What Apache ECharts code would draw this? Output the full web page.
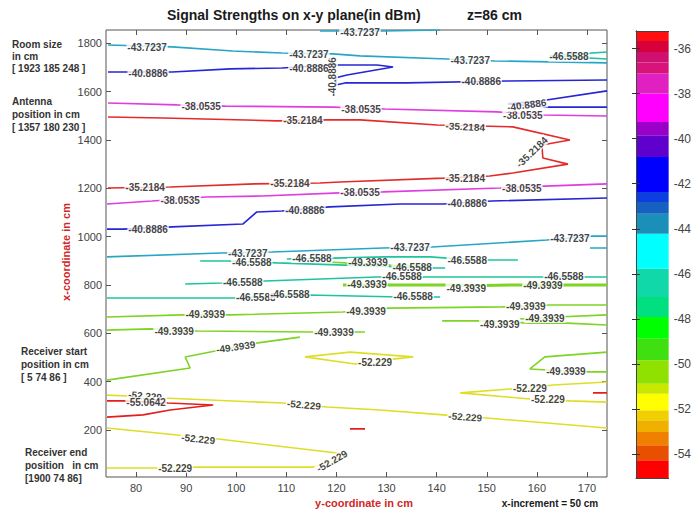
<!DOCTYPE html>
<html>
<head>
<meta charset="utf-8">
<title>Signal Strengths on x-y plane</title>
<script src="https://cdn.jsdelivr.net/npm/echarts@6/dist/echarts.min.js"></script>
<style>
  html, body { margin: 0; padding: 0; background: #fff; }
  #chart { width: 694px; height: 513px; }
</style>
</head>
<body>
<div id="chart"></div>
<script>
// ---- data ---------------------------------------------------------------
// contour levels in dBm
const levels = [-35.2184, -38.0535, -40.8886, -43.7237, -46.5588, -49.3939, -52.229, -55.0642];

// axis ticks
const xTicks = [80, 90, 100, 110, 120, 130, 140, 150, 160, 170];
const yTicks = [200, 400, 600, 800, 1000, 1200, 1400, 1600, 1800];
const cbTicks = [-54, -52, -50, -48, -46, -44, -42, -40, -38, -36];

// colour bar band edges (dBm, ascending)
const cbEdges = [-55.0642, -54.281, -53.615, -53.025, -52.505, -52.061, -51.320, -50.876,
  -49.841, -48.877, -47.918, -47.030, -45.769, -44.215, -43.327, -42.812, -42.368,
  -40.814, -39.850, -39.259, -37.998, -37.110, -36.622, -36.151, -35.6625, -35.2184];

// contour polylines: [y-coordinate (cm), x-coordinate (cm)]
// -35.2184
const red1 = [[74.4,1495],[85.4,1491],[108.1,1479],[118.1,1483],[124.7,1483],[140.1,1462],[155.2,1454],[166.6,1400],[161.0,1379],[161.2,1325],[166.2,1300],[155.2,1263],[150.6,1251],[141.3,1242],[120.7,1226],[116.7,1222],[103.7,1218],[86.8,1205],[74.4,1201]];
// -38.0535
const mag1 = [[74.4,1553],[88.2,1545],[97.8,1540],[119.3,1536],[129.7,1528],[152.0,1516],[161.2,1503],[174,1499]];
const mag2 = [[74.2,1135],[83.2,1147],[94.0,1164],[105.1,1168],[120.7,1181],[129.3,1185],[152.6,1201],[161.6,1209],[174,1218]];
// -40.8886
const blue1 = [[74.4,1681],[87.2,1681],[98.8,1694],[109.1,1698],[119.3,1710],[128.1,1710],[131.3,1702],[122.1,1669],[119.9,1657],[119.9,1627],[121.7,1636],[134.1,1636],[154.0,1644],[174,1648]];
const blue2 = [[174,1603],[160.6,1561],[154.2,1549],[162.2,1536],[174,1536]];
const blue3 = [[74.2,1031],[77.4,1031],[87.2,1040],[101.3,1052],[104.1,1102],[109.1,1106],[118.7,1123],[132.7,1135],[141.3,1135],[151.0,1147],[174,1160]];
// -43.7237
const cyan1 = [[74.4,1793],[87.2,1785],[99.3,1768],[109.1,1760],[119.3,1756],[124.7,1748],[142.1,1735],[151.6,1727],[174,1719]];
const cyan2 = [[116.7,1851],[120.3,1851],[129.3,1851],[140.7,1855]];
const cyan3 = [[74.2,916],[96.8,932],[107.1,936],[129.3,953],[139.1,957],[162.0,986],[171.2,1002],[174,1002]];
const cyan4 = [[170.6,953],[174,953]];
// -46.5588
const teal1 = [[174,1764],[162.6,1748],[174,1735]];
const teal2 = [[92.8,899],[98.4,899],[108.1,891],[121.7,882],[139.5,870],[141.7,870]];
const teal3 = [[110.1,907],[119.5,911],[129.5,916],[138.7,916],[142.1,911],[150.2,903],[156.2,903]];
const teal4 = [[89.8,804],[97.2,808],[105.7,816],[128.1,833],[138.1,833],[161.2,833],[174,833]];
const teal5 = [[74.2,746],[100.1,746],[108.7,754],[114.3,758],[132.7,750],[139.1,750],[140.7,750]];
// -49.3939
const green1 = [[118.1,895],[121.7,891],[130.7,882],[138.7,878]];
const green2 = [[121.3,800],[133.4,800],[141.7,800],[149.6,798],[157.2,800],[165.2,800],[174,800]];
const green3 = [[74.2,667],[89.2,676],[98.8,676],[121.3,688],[130.3,704],[153.2,709],[162.6,717],[174,717]];
const green4 = [[74.2,613],[82.8,618],[92.2,609],[115.3,605],[125.7,605]];
const green5 = [[141.1,651],[150.6,651],[158.6,642],[166.0,642],[174,634]];
const green6 = [[156.6,659],[164.0,667],[174,676]];
const green7 = [[74.2,406],[90.8,456],[89.8,502],[94.8,522],[100.0,543],[104.3,560],[112.7,584]];
const green8 = [[174,522],[161.6,502],[158.6,452],[165.8,444],[170.6,440],[174,440]];
// -52.229
const yel1 = [[113.7,502],[122.7,522],[135.3,502],[131.3,493],[127.7,477],[123.7,473],[113.7,502]];
const yel2 = [[74.2,344],[78.2,340],[85.4,332],[109.3,311],[118.1,295],[128.7,282],[141.3,262],[150.0,249],[174,208]];
const yel3 = [[74.2,208],[88.2,179],[96.4,162],[120.1,104],[122.3,91],[115.3,46],[92.2,46],[83.4,42],[74.2,42]];
const yel4 = [[174,398],[163.2,386],[158.6,373],[154.6,369],[144.7,353],[158.6,328],[162.2,324],[166.6,320],[174,315]];
// -55.0642
const red2 = [[74.2,320],[77.4,320],[86.4,311],[95.4,303],[86.8,282],[81.4,262],[74.2,253]];
const red3 = [[122.7,204],[125.7,204]];
const red4 = [[171.2,353],[174,353]];

// which level each polyline belongs to
const contourPaths = [
  [0, red1],
  [1, mag1], [1, mag2],
  [2, blue1], [2, blue2], [2, blue3],
  [3, cyan1], [3, cyan2], [3, cyan3], [3, cyan4],
  [4, teal1], [4, teal2], [4, teal3], [4, teal4], [4, teal5],
  [5, green1], [5, green2], [5, green3], [5, green4], [5, green5], [5, green6], [5, green7], [5, green8],
  [6, yel1], [6, yel2], [6, yel3], [6, yel4],
  [7, red2], [7, red3], [7, red4]
];

// inline contour labels per level: [y-coordinate, x-coordinate, angle]
const lab35 = [[113.3,1479,0],[145.7,1454,-3],[159.0,1350,44],[145.7,1242,0],[110.7,1218,0],[81.8,1205,0]];
const lab38 = [[93.0,1540,0],[124.9,1528,0],[157.2,1503,0],[88.8,1151,0],[124.7,1181,0],[157.0,1197,0]];
const lab40 = [[82.4,1677,0],[114.5,1694,0],[119.3,1661,90],[148.9,1640,0],[158.0,1545,8],[82.4,1031,0],[113.7,1110,0],[146.1,1139,0]];
const lab43 = [[82.2,1781,0],[114.5,1752,0],[146.7,1727,0],[124.7,1845,0],[102.3,932,0],[134.7,953,0],[166.6,994,0]];
const lab46 = [[166.4,1744,0],[103.1,891,0],[135.1,874,0],[115.1,911,0],[146.1,903,0],[101.3,808,0],[133.1,833,0],[165.4,833,0],[103.9,746,0],[110.7,762,0],[135.3,750,0]];
const lab49 = [[126.3,891,0],[126.1,800,0],[145.9,787,0],[161.2,796,0],[93.8,676,0],[125.9,692,0],[157.8,709,0],[87.6,609,0],[119.5,601,0],[152.6,638,0],[161.6,663,0],[99.9,543,8],[165.8,440,0]];
const lab52 = [[127.7,477,0],[81.8,340,-5],[113.5,303,-5],[145.7,253,-4],[92.4,162,-6],[119.1,71,30],[87.8,42,0],[158.6,373,0],[162.2,324,0]];
const lab55 = [[82.0,315,0]];
const contourLabels = [lab35, lab38, lab40, lab43, lab46, lab49, lab52, lab55];

// ---- styles -------------------------------------------------------------
const levelColors = ['#e32b2b', '#e03ce0', '#2626d6', '#27a6c6', '#1fc49c', '#7ed424', '#dede2a', '#e41e1e'];
const bandColors = ['#ff0000', '#e85000', '#f08000', '#f0b000', '#f0d000', '#ffff00', '#c8e800', '#90e000',
  '#40e010', '#00ff00', '#00e080', '#10d8a8', '#00ffff', '#1a90b8', '#1560c0', '#0d3ee0', '#0000ff',
  '#6000cc', '#9a00c8', '#ff00ff', '#e020c0', '#d8137a', '#d01070', '#d8003a', '#ff1010'];
const heavyPaths = [green2];
const FONT = '"Liberation Sans", Arial, sans-serif';

// ---- chart --------------------------------------------------------------
const chart = echarts.init(document.getElementById('chart'), null, { renderer: 'svg', width: 694, height: 513 });

const lineSeries = contourPaths.map(([lv, pts]) => ({
  type: 'line',
  xAxisIndex: 0,
  yAxisIndex: 0,
  data: pts,
  symbol: 'none',
  silent: true,
  z: 2,
  lineStyle: { color: levelColors[lv], width: heavyPaths.includes(pts) ? 3 : 1.6 }
}));

const labelData = [];
contourLabels.forEach((arr, lv) => {
  arr.forEach(([x, y, r]) => labelData.push({ value: [x, y], lvl: lv, label: { rotate: r } }));
});

const bands = cbEdges.slice(0, -1).map((lo, i) => [0, lo, cbEdges[i + 1], i]);

const tickStyle = { color: '#555', width: 1 };
const labelStyle = { color: '#444', fontSize: 11, fontFamily: FONT, formatter: v => String(v) };

const option = {
  animation: false,
  textStyle: { fontFamily: FONT },
  grid: [
    { left: 106, top: 30, width: 501, height: 447, show: true, borderColor: '#555', borderWidth: 1, backgroundColor: '#fff' },
    { left: 636, top: 31, width: 45, height: 447, show: false }
  ],
  xAxis: [
    { gridIndex: 0, type: 'value', min: 74, max: 174, position: 'bottom',
      axisLine: { show: false }, splitLine: { show: false },
      axisTick: { inside: true, length: 5, customValues: xTicks, lineStyle: tickStyle },
      axisLabel: Object.assign({ customValues: xTicks, margin: 5 }, labelStyle) },
    { gridIndex: 0, type: 'value', min: 74, max: 174, position: 'top',
      axisLine: { show: false }, splitLine: { show: false },
      axisTick: { inside: true, length: 5, customValues: xTicks, lineStyle: tickStyle },
      axisLabel: { show: false } },
    { gridIndex: 1, type: 'value', min: 0, max: 1, position: 'bottom', z: 10,
      axisLine: { show: true, lineStyle: { color: '#444' } }, splitLine: { show: false },
      axisTick: { show: false }, axisLabel: { show: false } },
    { gridIndex: 1, type: 'value', min: 0, max: 1, position: 'top', z: 10,
      axisLine: { show: true, lineStyle: { color: '#444' } }, splitLine: { show: false },
      axisTick: { show: false }, axisLabel: { show: false } }
  ],
  yAxis: [
    { gridIndex: 0, type: 'value', min: 5, max: 1855, position: 'left',
      axisLine: { show: false }, splitLine: { show: false },
      axisTick: { inside: true, length: 5, customValues: yTicks, lineStyle: tickStyle },
      axisLabel: Object.assign({ customValues: yTicks, margin: 4 }, labelStyle) },
    { gridIndex: 0, type: 'value', min: 5, max: 1855, position: 'right',
      axisLine: { show: false }, splitLine: { show: false },
      axisTick: { inside: true, length: 5, customValues: yTicks, lineStyle: tickStyle },
      axisLabel: { show: false } },
    { gridIndex: 1, type: 'value', min: -55.0642, max: -35.2184, position: 'right', z: 10,
      axisLine: { show: true, lineStyle: { color: '#444' } }, splitLine: { show: false },
      axisTick: { inside: true, length: 4, customValues: cbTicks, lineStyle: { color: '#333' } },
      axisLabel: Object.assign({}, labelStyle, { customValues: cbTicks, margin: 5, fontSize: 12 }) },
    { gridIndex: 1, type: 'value', min: -55.0642, max: -35.2184, position: 'left', z: 10,
      axisLine: { show: true, lineStyle: { color: '#444' } }, splitLine: { show: false },
      axisTick: { inside: true, length: 4, customValues: cbTicks, lineStyle: { color: '#333' } },
      axisLabel: { show: false } }
  ],
  series: lineSeries.concat([
    {
      type: 'scatter',
      xAxisIndex: 0,
      yAxisIndex: 0,
      data: labelData,
      symbolSize: 1,
      itemStyle: { color: 'rgba(0,0,0,0)' },
      silent: true,
      z: 5,
      labelLayout: { hideOverlap: false },
      label: {
        show: true,
        position: 'inside',
        formatter: p => String(levels[p.data.lvl]),
        color: '#111',
        fontSize: 10,
        fontWeight: 'bold',
        fontFamily: FONT,
        backgroundColor: '#fff',
        padding: [0, 1]
      }
    },
    {
      type: 'custom',
      xAxisIndex: 2,
      yAxisIndex: 2,
      data: bands,
      encode: { x: 0, y: [1, 2] },
      silent: true,
      z: 1,
      renderItem: (params, api) => {
        const a = api.coord([0, api.value(2)]);
        const b = api.coord([1, api.value(1)]);
        return {
          type: 'rect',
          shape: { x: a[0], y: a[1], width: b[0] - a[0], height: b[1] - a[1] },
          style: { fill: bandColors[api.value(3)] }
        };
      }
    }
  ]),
  graphic: [
    { type: 'text', x: 167, y: 15, style: { text: 'Signal Strengths on x-y plane(in dBm)', font: 'bold 14px ' + FONT, fill: '#1a1a1a', textVerticalAlign: 'middle' } },
    { type: 'text', x: 467, y: 15, style: { text: 'z=86 cm', font: 'bold 14px ' + FONT, fill: '#1a1a1a', textVerticalAlign: 'middle' } },

    { type: 'text', x: 12, y: 44, style: { text: 'Room size', font: 'bold 10px ' + FONT, fill: '#333', textVerticalAlign: 'middle' } },
    { type: 'text', x: 12, y: 56, style: { text: 'in cm', font: 'bold 10px ' + FONT, fill: '#333', textVerticalAlign: 'middle' } },
    { type: 'text', x: 12, y: 68, style: { text: '[ 1923 185 248 ]', font: 'bold 10px ' + FONT, fill: '#333', textVerticalAlign: 'middle' } },

    { type: 'text', x: 12, y: 101, style: { text: 'Antenna', font: 'bold 10px ' + FONT, fill: '#333', textVerticalAlign: 'middle' } },
    { type: 'text', x: 12, y: 114, style: { text: 'position in cm', font: 'bold 10px ' + FONT, fill: '#333', textVerticalAlign: 'middle' } },
    { type: 'text', x: 12, y: 127, style: { text: '[ 1357 180 230 ]', font: 'bold 10px ' + FONT, fill: '#333', textVerticalAlign: 'middle' } },

    { type: 'text', x: 21, y: 351, style: { text: 'Receiver start', font: 'bold 10px ' + FONT, fill: '#333', textVerticalAlign: 'middle' } },
    { type: 'text', x: 21, y: 364, style: { text: 'position in cm', font: 'bold 10px ' + FONT, fill: '#333', textVerticalAlign: 'middle' } },
    { type: 'text', x: 21, y: 377, style: { text: '[ 5 74 86 ]', font: 'bold 10px ' + FONT, fill: '#333', textVerticalAlign: 'middle' } },

    { type: 'text', x: 25, y: 452, style: { text: 'Receiver end', font: 'bold 10px ' + FONT, fill: '#333', textVerticalAlign: 'middle' } },
    { type: 'text', x: 25, y: 465, style: { text: 'position   in cm', font: 'bold 10px ' + FONT, fill: '#333', textVerticalAlign: 'middle' } },
    { type: 'text', x: 25, y: 478, style: { text: '[1900 74 86]', font: 'bold 10px ' + FONT, fill: '#333', textVerticalAlign: 'middle' } },

    { type: 'text', x: 66, y: 252, rotation: Math.PI / 2, style: { text: 'x-coordinate in cm', font: 'bold 11px ' + FONT, fill: '#d02828', textAlign: 'center', textVerticalAlign: 'middle' } },
    { type: 'text', x: 364, y: 503, style: { text: 'y-coordinate in cm', font: 'bold 11px ' + FONT, fill: '#d02828', textAlign: 'center', textVerticalAlign: 'middle' } },
    { type: 'text', x: 550, y: 503, style: { text: 'x-increment = 50 cm', font: 'bold 10px ' + FONT, fill: '#1a1a1a', textAlign: 'center', textVerticalAlign: 'middle' } }
  ]
};

chart.setOption(option);
</script>
</body>
</html>
